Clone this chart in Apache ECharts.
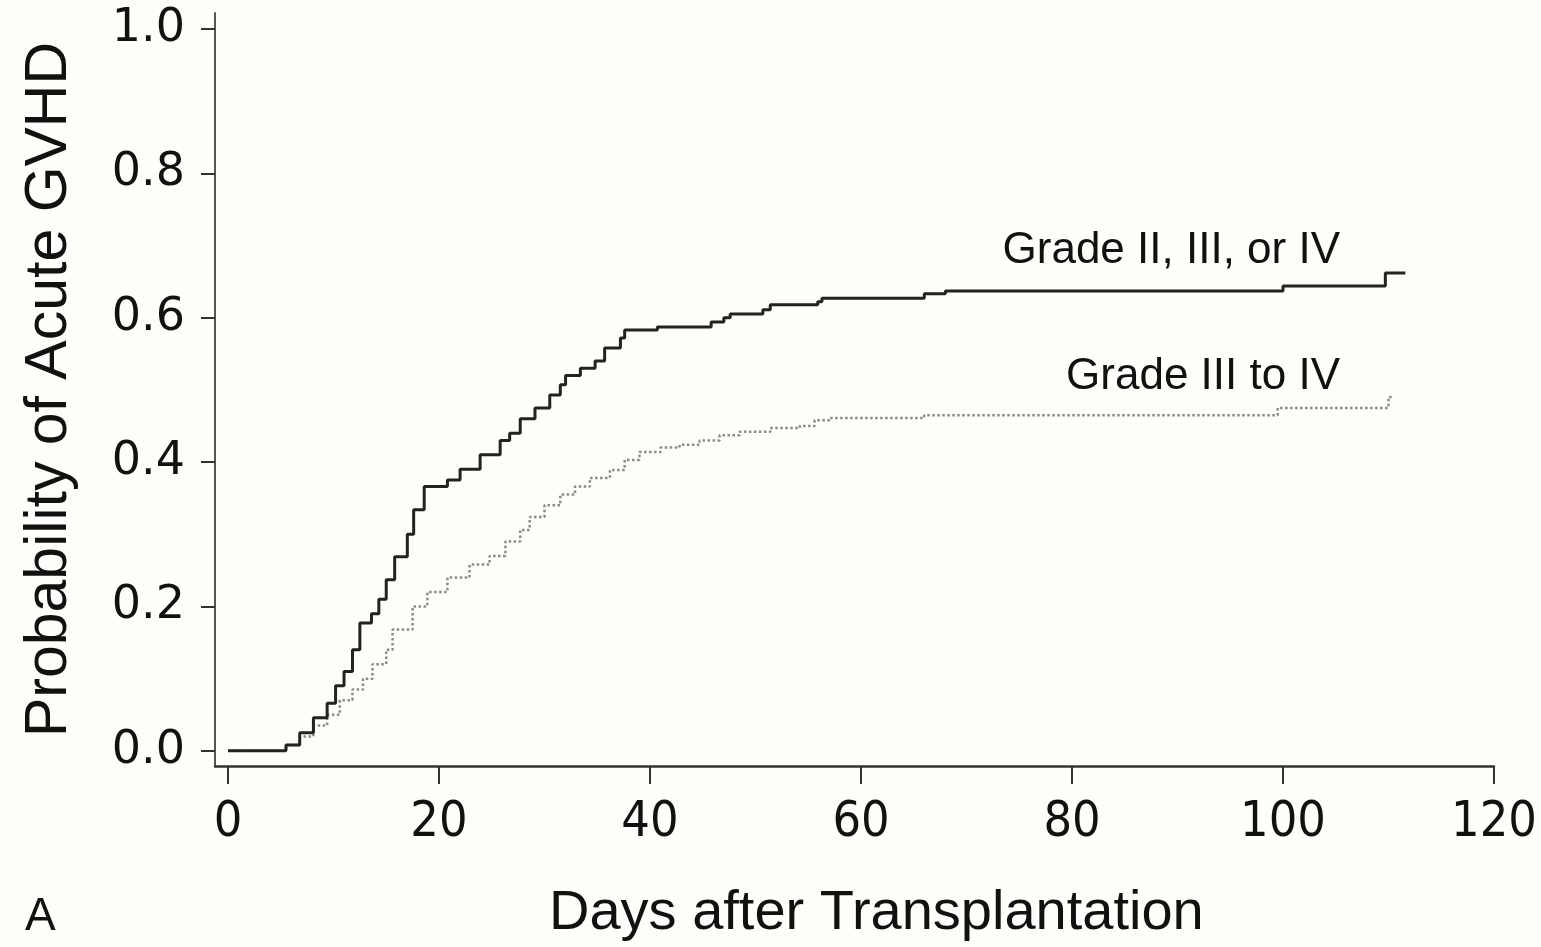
<!DOCTYPE html>
<html>
<head>
<meta charset="utf-8">
<script src="https://cdn.jsdelivr.net/npm/echarts@6/dist/echarts.min.js"></script>
<style>
  html, body { margin: 0; padding: 0; background: #fdfdf9; }
  #chart { width: 1541px; height: 947px; }
</style>
</head>
<body>
<div id="chart"></div>
<script>
// Grade II, III, or IV (cumulative incidence, step changes at each day)
const gradeIIDays = [0, 5.5, 6.8, 8.1, 9.4, 10.2, 11, 11.8, 12.5, 13.6,
  14.3, 15, 15.8, 17, 17.6, 18.6, 20.8, 22, 23.9, 25.8,
  26.7, 27.7, 29.1, 30.5, 31.5, 32, 33.4, 34.8, 35.7, 37.2,
  37.6, 40.7, 45.8, 47, 47.6, 50.7, 51.4, 55.9, 56.3, 60,
  66, 68, 100, 109.7, 111.6]
const gradeIIValues = [0, 0.008, 0.025, 0.046, 0.066, 0.09, 0.11, 0.14, 0.177, 0.19,
  0.21, 0.237, 0.269, 0.30, 0.334, 0.366, 0.375, 0.39, 0.41, 0.43,
  0.44, 0.46, 0.475, 0.493, 0.507, 0.52, 0.53, 0.54, 0.558, 0.572,
  0.583, 0.587, 0.594, 0.6, 0.605, 0.611, 0.618, 0.622, 0.627, 0.627,
  0.633, 0.637, 0.644, 0.662, 0.662]

// Grade III to IV
const gradeIIIDays = [0, 5.5, 6.8, 8.1, 9.4, 10.6, 11.8, 12.8, 13.7, 15,
  15.6, 17.5, 18.9, 20.8, 22.9, 24.8, 26.3, 27.7, 28.6, 30,
  31.5, 32.9, 34.3, 36.2, 37.6, 39, 41, 42.8, 44.7, 46.6,
  48.5, 51.4, 54.2, 55.6, 57, 66, 99.5, 110, 110.3]
const gradeIIIValues = [0, 0.008, 0.02, 0.035, 0.05, 0.07, 0.085, 0.1, 0.12, 0.14,
  0.168, 0.2, 0.22, 0.24, 0.258, 0.27, 0.29, 0.306, 0.324, 0.34,
  0.355, 0.366, 0.378, 0.389, 0.403, 0.414, 0.42, 0.424, 0.43, 0.437,
  0.442, 0.447, 0.45, 0.458, 0.461, 0.465, 0.475, 0.49, 0.49]

const xTicks = [0, 20, 40, 60, 80, 100, 120]
const yTicks = [0, 0.2, 0.4, 0.6, 0.8, 1.0]

const chart = echarts.init(document.getElementById('chart'))

chart.setOption({
  backgroundColor: '#fdfdf9',
  animation: false,
  grid: { left: 215, right: 47, top: 13, bottom: 181, outerBoundsMode: 'none' },
  xAxis: {
    type: 'value',
    min: -1.23,
    max: 120,
    splitLine: { show: false },
    axisLine: { onZero: false, lineStyle: { color: '#333', width: 2.5 } },
    axisTick: { customValues: xTicks, length: 18, lineStyle: { color: '#333', width: 2 } },
    axisLabel: {
      customValues: xTicks,
      margin: 32,
      color: '#111',
      fontFamily: '"DejaVu Sans Condensed", "Liberation Sans"',
      fontSize: 50
    }
  },
  yAxis: {
    type: 'value',
    min: -0.021,
    max: 1.022,
    splitLine: { show: false },
    axisLine: { onZero: false, lineStyle: { color: '#555', width: 2 } },
    axisTick: { customValues: yTicks, length: 14, lineStyle: { color: '#333', width: 2 } },
    axisLabel: {
      customValues: yTicks,
      margin: 30,
      color: '#111',
      fontFamily: 'DejaVu Sans',
      fontSize: 46,
      formatter: v => v.toFixed(1)
    },
    name: 'Probability of Acute GVHD',
    nameLocation: 'middle',
    nameGap: 136,
    nameTextStyle: { fontFamily: 'Liberation Sans', fontSize: 59, color: '#111' }
  },
  series: [
    {
      name: 'Grade II, III, or IV',
      type: 'line',
      step: 'end',
      showSymbol: false,
      data: gradeIIDays.map((d, i) => [d, gradeIIValues[i]]),
      lineStyle: { color: '#222', width: 3 },
      z: 3
    },
    {
      name: 'Grade III to IV',
      type: 'line',
      step: 'end',
      showSymbol: false,
      data: gradeIIIDays.map((d, i) => [d, gradeIIIValues[i]]),
      lineStyle: { color: '#8a8a8a', width: 2.5, type: 'dotted' },
      z: 2
    }
  ],
  graphic: [
    {
      type: 'text', right: 201, top: 229,
      style: { text: 'Grade II, III, or IV', font: '44px "Liberation Sans"', fill: '#111' }
    },
    {
      type: 'text', right: 201, top: 355,
      style: { text: 'Grade III to IV', font: '44px "Liberation Sans"', fill: '#111' }
    },
    {
      type: 'text', left: 549, top: 886,
      style: { text: 'Days after Transplantation', font: '56px "Liberation Sans"', fill: '#111' }
    },
    {
      type: 'text', left: 25, top: 894,
      style: { text: 'A', font: '46px "Liberation Sans"', fill: '#111' }
    }
  ]
})
</script>
</body>
</html>
